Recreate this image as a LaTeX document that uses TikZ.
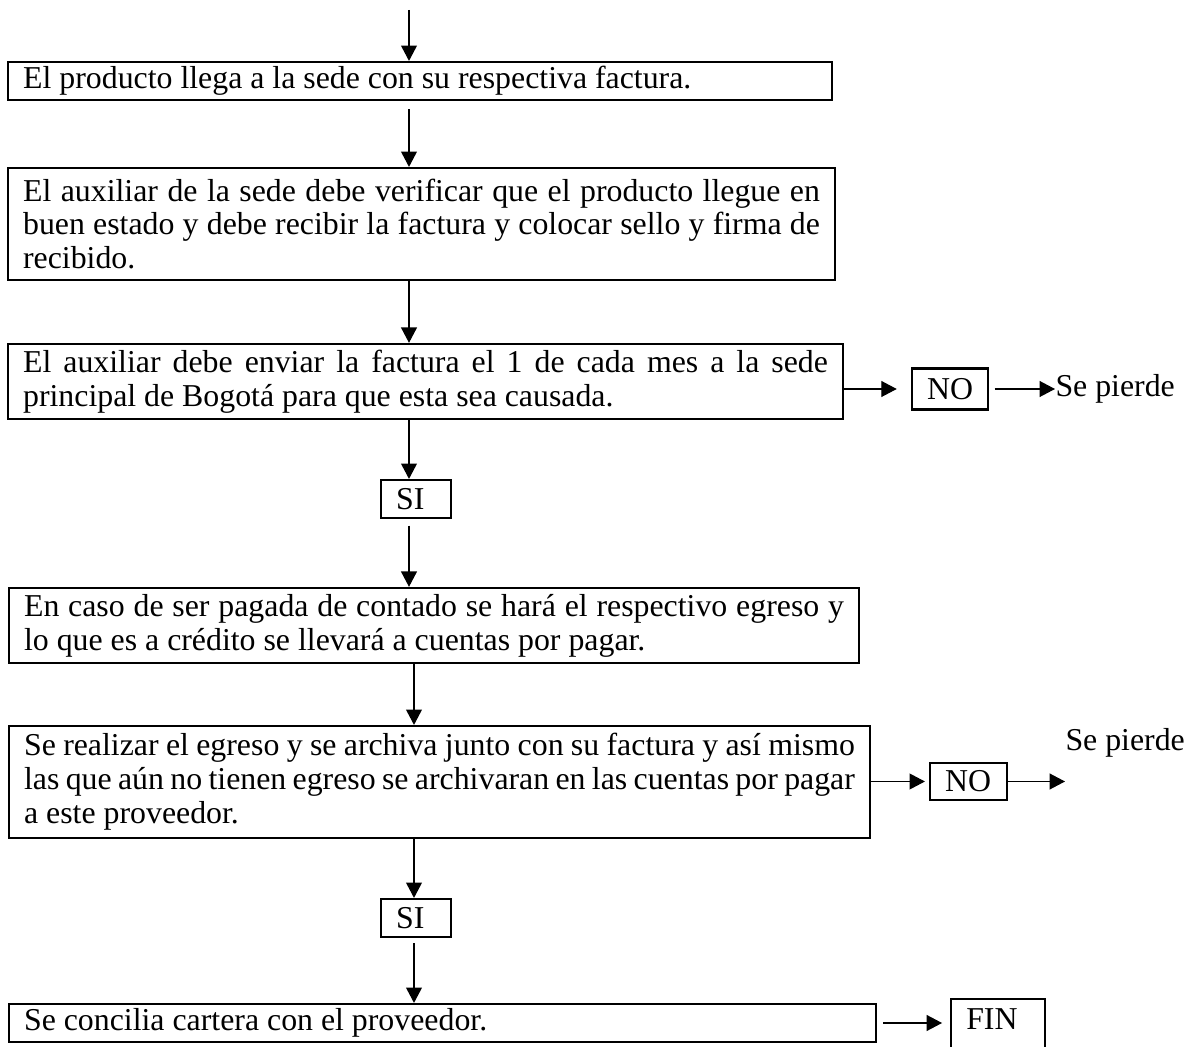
\documentclass[tikz,border=0pt]{standalone}
\usepackage{fontspec}
\setmainfont{Liberation Serif}
\usetikzlibrary{arrows.meta}

\begin{document}
\begin{tikzpicture}[x=0.377pt, y=-0.377pt, font=\fontsize{12}{12.8}\selectfont,
        >={Triangle[length=5.8pt,width=6pt]},
        paso/.style={draw, line width=0.85pt, align=justify, inner xsep=5.7pt, inner ysep=1pt},
        caja/.style={draw, line width=0.85pt, align=left, inner xsep=5.7pt, inner ysep=1pt},
        flecha/.style={->, line width=0.45pt}]
            \useasboundingbox (0,0) rectangle (1191,1047);
            \node[paso, text width=299.2pt, minimum height=14.3pt] (p1) at (420,81) {El producto llega a la sede con su respectiva factura.};
            \node[paso, text width=300.4pt, minimum height=42.2pt] (p2) at (421.5,224) {El auxiliar de la sede debe verificar que el producto llegue en\linebreak buen estado y debe recibir la factura y colocar sello y firma de\linebreak recibido.};
            \node[paso, text width=303.4pt, minimum height=28.3pt] (p3) at (425.5,381.5) {El auxiliar debe enviar la factura el 1 de cada mes a la sede\linebreak principal de Bogotá para que esta sea causada.};
            \node[paso, text width=309.1pt, minimum height=28.3pt] (p4) at (434,625.5) {En caso de ser pagada de contado se hará el respectivo egreso y\linebreak lo que es a crédito se llevará a cuentas por pagar.};
            \node[paso, text width=313.2pt, minimum height=42.2pt] (p5) at (439.5,782) {Se realizar el egreso y se archiva junto con su factura y así mismo\linebreak las que aún no tienen egreso se archivaran en las cuentas por pagar\linebreak a este proveedor.};
            \node[paso, text width=315.5pt, minimum height=14.3pt] (p6) at (442.5,1023) {Se concilia cartera con el proveedor.};
            \node[caja, text width=15pt, minimum height=14.3pt] (si1) at (416,499) {SI};
            \node[caja, text width=15pt, minimum height=14.3pt] (si2) at (416,918) {SI};
            \node[caja, text width=17.3pt, minimum height=15.5pt] (no1) at (950,389) {NO};
            \node[caja, text width=17.6pt, minimum height=14pt] (no2) at (968.5,781.5) {NO};
            \node[caja, text width=24pt, anchor=north west, inner ysep=3.6pt, text depth=18pt] (fin) at (950,998) {FIN};
            \node[anchor=west, inner sep=0pt] (sp1) at (1055,389) {Se pierde};
            \node[anchor=west, inner sep=0pt] (sp2) at (1065,743) {Se pierde};
            \coordinate (ini) at (409,10);
            \coordinate (eje) at (414,0);
            \coordinate (fin2) at (1065,781.5);
            \draw[flecha] (ini) -- (p1.north -| ini);
            \draw[flecha, shorten <=3pt] (p1.south -| ini) -- (p2.north -| ini);
            \draw[flecha] (p2.south -| ini) -- (p3.north -| ini);
            \draw[flecha] (p3.south -| ini) -- (si1.north -| ini);
            \draw[flecha, shorten <=2.5pt] (si1.south -| ini) -- (p4.north -| ini);
            \draw[flecha] (p4.south -| eje) -- (p5.north -| eje);
            \draw[flecha] (p5.south -| eje) -- (si2.north -| eje);
            \draw[flecha, shorten <=2pt] (si2.south -| eje) -- (p6.north -| eje);
            \draw[flecha, shorten >=5.3pt] (p3.east |- no1) -- (no1.west);
            \draw[flecha, shorten <=2pt] (no1.east) -- (sp1.west);
            \draw[flecha, shorten >=1.5pt] (p5.east |- no2) -- (no2.west);
            \draw[flecha] (no2.east) -- (fin2);
            \draw[flecha, shorten <=2.3pt, shorten >=3pt] (p6.east) -- (p6.east -| fin.west);
        \end{tikzpicture}
\end{document}
